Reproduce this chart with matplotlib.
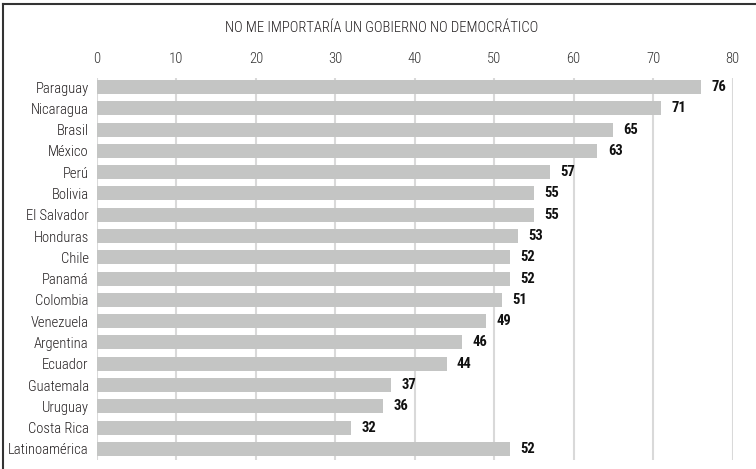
import matplotlib
matplotlib.use("Agg")
import matplotlib.pyplot as plt
from matplotlib.lines import Line2D

plt.rcParams['font.family'] = ['Roboto Condensed', 'DejaVu Sans']

title = "NO ME IMPORTARÍA UN GOBIERNO NO DEMOCRÁTICO"
countries = ["Paraguay", "Nicaragua", "Brasil", "México", "Perú", "Bolivia",
             "El Salvador", "Honduras", "Chile", "Panamá", "Colombia",
             "Venezuela", "Argentina", "Ecuador", "Guatemala", "Uruguay",
             "Costa Rica", "Latinoamérica"]
values = [76, 71, 65, 63, 57, 55, 55, 53, 52, 52, 51, 49, 46, 44, 37, 36, 32, 52]
xticks = [0, 10, 20, 30, 40, 50, 60, 70, 80]

W, H = 756, 469
fig = plt.figure(figsize=(W / 100, H / 100), dpi=100)
ax = fig.add_axes([97 / W, 1 - 459.5 / H, (732.5 - 97) / W, (459.5 - 78.5) / H])

pos = list(range(len(countries)))
ax.barh(pos, values, height=0.66, color="#c4c5c4", zorder=2)
for y, v in zip(pos, values):
    ax.text(v + 1.3, y, str(v), va="center", ha="left",
            fontsize=10.5, fontweight="bold", color="#111111")

ax.set_xlim(0, 80)
ax.set_ylim(len(countries) - 0.5, -0.4)
ax.set_xticks(xticks)
ax.set_yticks(pos)
ax.set_yticklabels(countries, fontsize=10.5, color="#231f20", fontweight="light")
ax.xaxis.tick_top()
ax.tick_params(axis="x", length=0, pad=9, labelsize=10.5, labelcolor="#333333")
for lbl in ax.get_xticklabels():
    lbl.set_fontweight("light")
ax.tick_params(axis="y", length=0, pad=6)
ax.grid(axis="x", color="#d9d9d9", linewidth=1.5, zorder=1)
ax.grid(axis="y", visible=False)
for s in ax.spines.values():
    s.set_visible(False)

fig.text(0.505, 1 - 28 / H, title, ha="center", va="center",
         fontsize=10.5, color="#231f20", fontweight="light")

# frame lines along the top and left edges
fig.add_artist(Line2D([3 / W, 1], [1 - 4 / H, 1 - 4 / H], color="#333333",
                      linewidth=1.5, transform=fig.transFigure))
fig.add_artist(Line2D([3 / W, 3 / W], [0, 1 - 4 / H], color="#333333",
                      linewidth=1.5, transform=fig.transFigure))

fig.savefig("out.png", dpi=100)
